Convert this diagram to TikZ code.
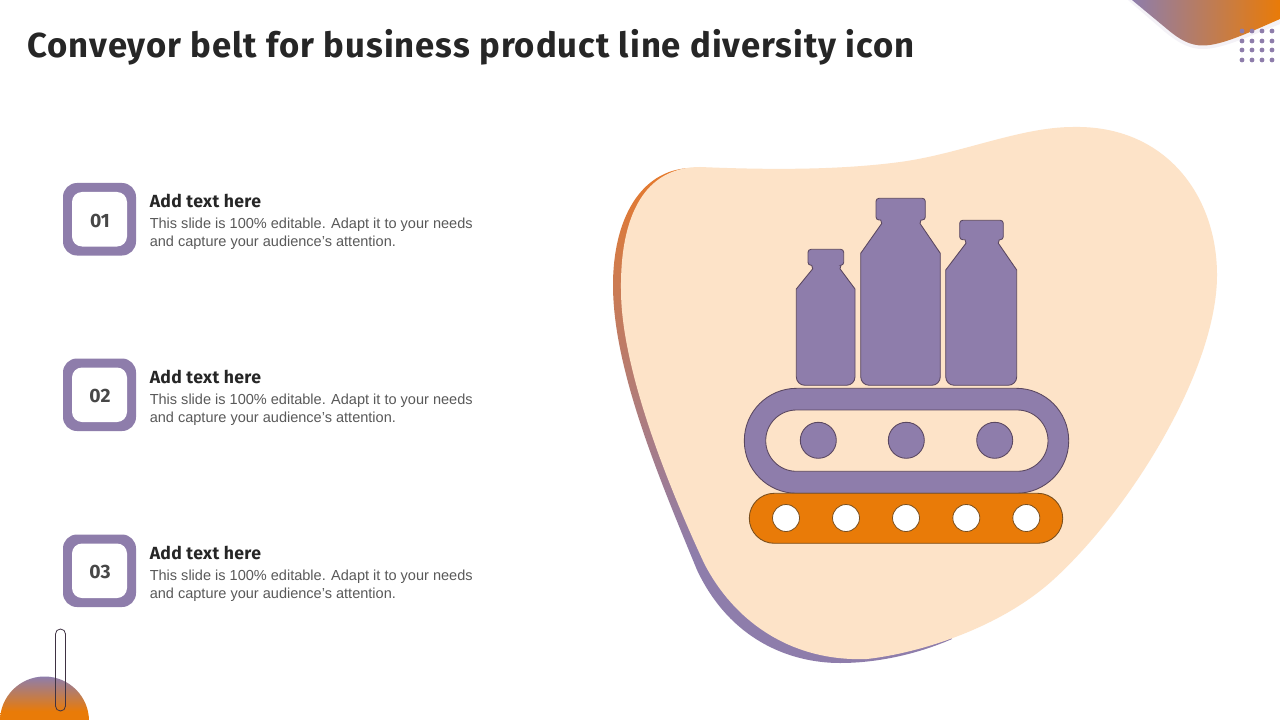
\documentclass[tikz,border=0pt]{standalone}
\usepackage{fontspec}
\setmainfont{Liberation Sans}
\newfontfamily\headfont[LetterSpace=2.85]{Fira Sans}
\newfontfamily\subfont[LetterSpace=2.0]{Fira Sans}
\newfontfamily\numfont{Fira Sans}
\definecolor{purp}{HTML}{8E7DAB}
\definecolor{oran}{HTML}{E97B08}
\definecolor{warm}{HTML}{E67A2C}
\definecolor{peach}{HTML}{FDE3C8}
\definecolor{edgeb}{HTML}{5A4760}
\definecolor{edgeo}{HTML}{7A4E1C}
\definecolor{txtd}{HTML}{262626}
\definecolor{txtg}{HTML}{595959}
\pgfdeclareverticalshading{backfade}{100bp}{color(0bp)=(purp); color(25bp)=(purp); color(36bp)=(purp); color(75bp)=(warm); color(100bp)=(warm)}
\pgfdeclareverticalshading{cornerfade}{100bp}{color(0bp)=(oran); color(25bp)=(oran); color(36bp)=(oran); color(75bp)=(purp); color(100bp)=(purp)}
\tikzset{
 x=0.75pt,y=-0.75pt,
 icon/.style={fill=purp,draw=edgeb,line width=0.65pt},
 iconorange/.style={fill=oran,draw=edgeo,line width=0.65pt},
 hole/.style={fill=white,draw=edgeo,line width=0.6pt},
 outerbox/.style={fill=purp,rounded corners=10.5pt},
 innerbox/.style={fill=white,rounded corners=7.5pt},
 numtext/.style={font=\numfont\bfseries\fontsize{14.5}{18}\selectfont,text=txtd!85!white,anchor=center,inner sep=0pt},
 headtext/.style={font=\subfont\bfseries\fontsize{13.2}{16}\selectfont,text=txtd,anchor=base west,inner sep=0pt},
 bodytext/.style={font=\fontsize{10.9}{13.5}\selectfont,text=txtg,anchor=base west,inner sep=0pt},
}
\newcommand{\bottlepath}[9]{% capL capR capT capB neckL neckR shoulderY bodyL bodyR
 (#1+3,#3) -- (#2-3,#3) arc[start angle=-90,end angle=0,radius=3] -- (#2,#4-3) arc[start angle=0,end angle=90,radius=3]
 -- (#6+1,#4) -- (#6,#4+3.5) -- (#9,#7) -- (#9,385.3-8.5) arc[start angle=0,end angle=90,radius=8.5]
 -- (#8+8.5,385.3) arc[start angle=90,end angle=180,radius=8.5] -- (#8,#7) -- (#5,#4+3.5) -- (#5-1,#4)
 -- (#1+3,#4) arc[start angle=90,end angle=180,radius=3] -- (#1,#3+3) arc[start angle=180,end angle=270,radius=3] -- cycle}
\begin{document}
\begin{tikzpicture}
\useasboundingbox (0,0) rectangle (1280,720);
\fill[white] (0,0) rectangle (1280,720);
% top right decoration
\fill[purp!10] (1128,0) -- (1165,32) .. controls (1180,44) and (1190,49) .. (1203,49) .. controls (1222,49) and (1250,36) .. (1280,24) -- (1280,0) -- cycle;
\shade[left color=purp,right color=oran] (1132,0) -- (1167,29) .. controls (1180,40) and (1190,45.5) .. (1203,45.5) .. controls (1222,45.5) and (1250,32) .. (1280,19) -- (1280,0) -- cycle;
\foreach \dx in {1242,1252,1262,1272}{\foreach \dy in {31,41,50,60}{\fill[purp] (\dx,\dy) circle[radius=2.4];}}
% bottom left decoration
\begin{scope}
\clip (0,0) rectangle (1280,720);
\shade[shading=cornerfade] (0,721) arc[start angle=180,end angle=360,radius=44.5] -- cycle;
\end{scope}
\draw[edgeb!70!black,line width=0.6pt,rounded corners=3.7pt] (55.5,629) rectangle (65.5,711);
% blob
\shade[shading=backfade] (690,168) .. controls (640,170) and (613,220) .. (613,285)
 .. controls (613,370) and (660,480) .. (697,570)
 .. controls (730,640) and (790,663) .. (840,663)
 .. controls (880,663) and (920,653) .. (952,639)
 -- (800,400) -- cycle;
\fill[peach] (700,167) .. controls (770,170) and (840,170) .. (900,162)
 .. controls (960,154) and (1020,127) .. (1073,127)
 .. controls (1165,125) and (1217,195) .. (1217,275)
 .. controls (1217,370) and (1130,510) .. (1053,580)
 .. controls (1000,628) and (920,653) .. (867,659)
 .. controls (790,662) and (733,620) .. (704,563)
 .. controls (670,490) and (621,370) .. (621,290)
 .. controls (620,215) and (645,167) .. (700,167) -- cycle;
% bottles
\draw[icon] \bottlepath{808}{843.7}{249.3}{265.3}{812.7}{840}{289}{796.3}{855};
\draw[icon] \bottlepath{876}{925.3}{198.3}{220}{881.7}{920}{253.3}{860.7}{940.3};
\draw[icon] \bottlepath{959.7}{1003.3}{220.3}{239.7}{966}{998.3}{270}{945.7}{1016.7};
% belt
\draw[icon,rounded corners=39.3pt] (744.3,388.3) rectangle (1068.7,493.3);
\draw[fill=peach,draw=edgeb,line width=0.65pt,rounded corners=23pt] (765.7,410) rectangle (1048,471.3);
\foreach \cx in {818.3,906.3,994.7}{\draw[icon] (\cx,440.3) circle[radius=18];}
\draw[iconorange,rounded corners=18.7pt] (749.3,493.3) rectangle (1062.7,543.3);
\foreach \cx in {786,846,906,966.3,1026.3}{\draw[hole] (\cx,518) circle[radius=13.5];}
% title
\node[font=\headfont\bfseries\fontsize{26}{32}\selectfont,text=txtd,anchor=base west,inner sep=0pt] (title) at (27,58) {Conveyor belt for business product line diversity icon};
% items
\foreach \yy/\num/\nm in {183/01/a,358.5/02/b,534.5/03/c}{
 \fill[outerbox] (63,\yy) rectangle (136,\yy+72.5);
 \fill[innerbox] (72,\yy+9) rectangle (127,\yy+63.5);
 \node[numtext] (num\nm) at (100,\yy+37.5) {\num};
 \node[headtext] (head\nm) at (149.5,\yy+24.5) {Add text here};
 \node[bodytext] (bodya\nm) at (149.5,\yy+45.5) {This slide is 100\% editable. Adapt it to your needs};
 \node[bodytext] (bodyb\nm) at (149.5,\yy+63.5) {and capture your audience’s attention.};
}
\end{tikzpicture}
\end{document}
